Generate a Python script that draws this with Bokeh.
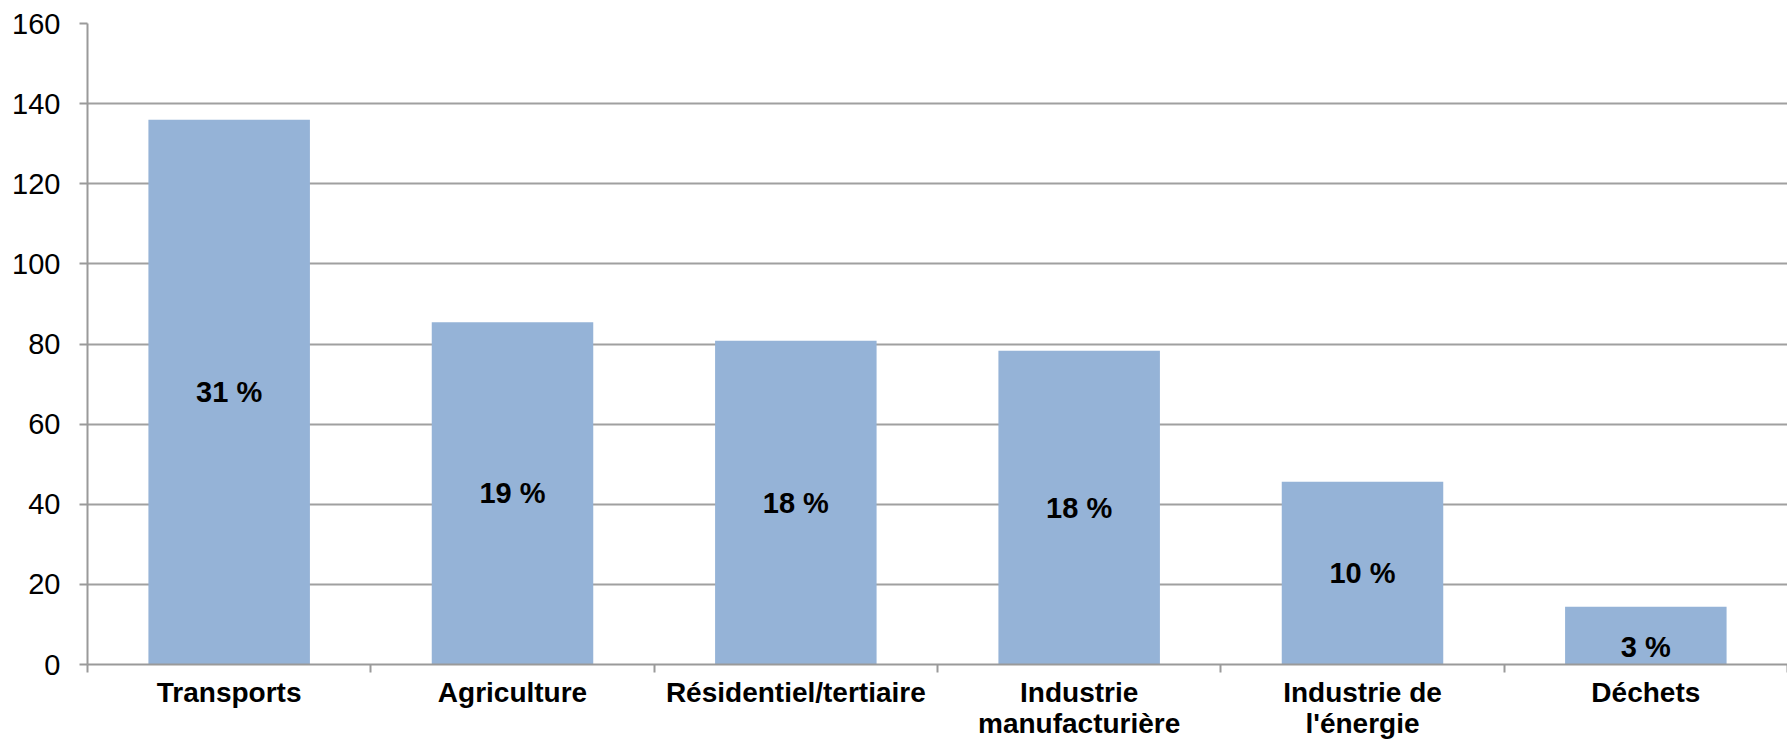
import numpy as np
from bokeh.plotting import figure
from bokeh.models import Range1d, FixedTicker, ColumnDataSource
from bokeh.core.properties import value
from bokeh.embed import file_html
from bokeh.resources import INLINE

categories = ["Transports", "Agriculture", "Résidentiel/tertiaire",
              "Industrie\nmanufacturière", "Industrie de\nl'énergie", "Déchets"]
values = [136.0, 85.4, 80.8, 78.3, 45.6, 14.4]
shares = ["31 %", "19 %", "18 %", "18 %", "10 %", "3 %"]
y_ticks = [0, 20, 40, 60, 80, 100, 120, 140, 160]

FONT = "Liberation Sans"
n = len(categories)
centers = np.arange(n) + 0.5

p = figure(width=1787, height=741, output_backend="svg", toolbar_location=None,
           x_range=Range1d(0, n), y_range=Range1d(0, 160))
p.min_border_left = 87
p.min_border_top = 23
p.min_border_right = 0
p.min_border_bottom = 76
p.outline_line_color = None
p.background_fill_color = "white"
p.border_fill_color = "white"

# bars
p.vbar(x=centers, top=values, width=0.57, fill_color="#95B3D7", line_color=None)

# labels: centred in bar, except the small last bar (drawn near its base)
label_y = [v / 2 for v in values]
label_y[-1] = 0.0
y_off = [0] * n
y_off[-1] = -18
src = ColumnDataSource(dict(x=centers, y=label_y, t=shares, yo=y_off))
p.text(x="x", y="y", text="t", y_offset="yo", source=src,
       text_align="center", text_baseline="middle",
       text_font=value(FONT), text_font_style="bold",
       text_font_size="29px", text_color="black")

# y axis
p.yaxis.ticker = FixedTicker(ticks=y_ticks)
p.yaxis.major_label_text_font = FONT
p.yaxis.major_label_text_font_size = "29px"
p.yaxis.major_label_text_color = "black"
p.yaxis.major_label_standoff = 19
p.yaxis.major_tick_out = 8
p.yaxis.major_tick_in = 0
p.yaxis.minor_tick_line_color = None
p.yaxis.axis_line_color = "#9a9a9a"
p.yaxis.axis_line_width = 2
p.yaxis.major_tick_line_color = "#9a9a9a"
p.yaxis.major_tick_line_width = 2

# x axis: labels at centres, tick marks at category boundaries
p.xaxis.ticker = FixedTicker(ticks=list(centers), minor_ticks=list(range(n + 1)))
p.xaxis.major_label_overrides = {float(c): lab for c, lab in zip(centers, categories)}
p.xaxis.major_label_text_font = FONT
p.xaxis.major_label_text_font_style = "bold"
p.xaxis.major_label_text_font_size = "28px"
p.xaxis.major_label_text_color = "black"
p.xaxis.major_label_text_line_height = 1.0
p.xaxis.major_label_standoff = 4
p.xaxis.major_tick_out = 0
p.xaxis.major_tick_in = 0
p.xaxis.major_tick_line_color = None
p.xaxis.minor_tick_out = 8
p.xaxis.minor_tick_in = 0
p.xaxis.minor_tick_line_color = "#9a9a9a"
p.xaxis.minor_tick_line_width = 2
p.xaxis.axis_line_color = "#9a9a9a"
p.xaxis.axis_line_width = 2

p.xgrid.grid_line_color = None
p.ygrid.ticker = FixedTicker(ticks=y_ticks)
p.ygrid.grid_line_color = "#a0a0a0"
p.ygrid.grid_line_width = 2

open("out.html", "w").write(file_html(p, INLINE))
